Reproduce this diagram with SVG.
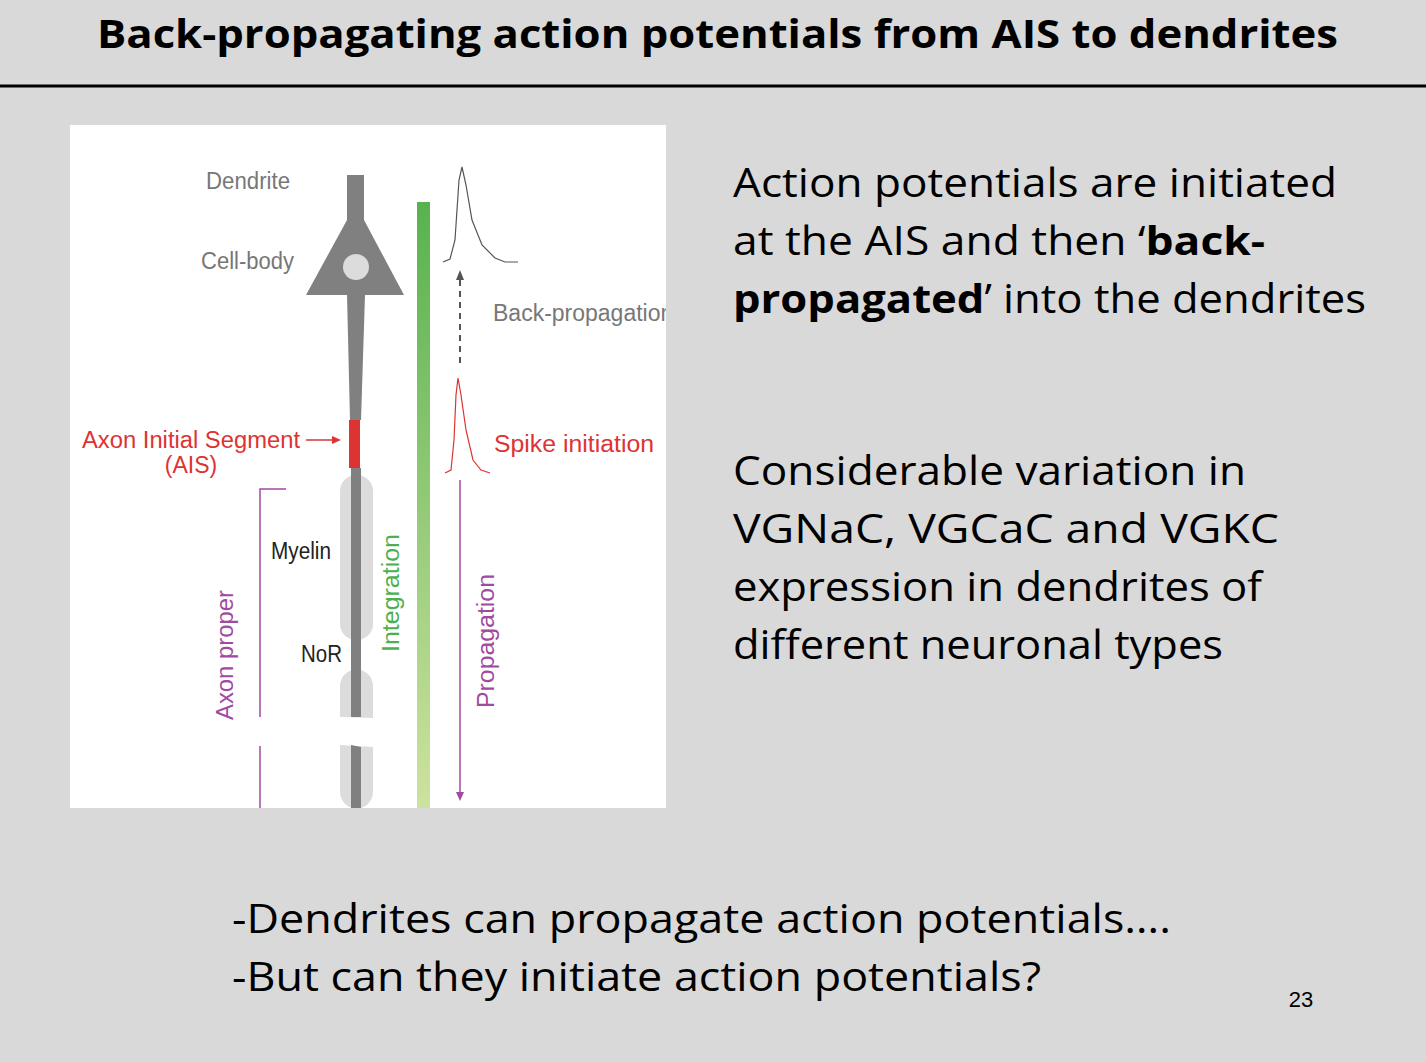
<svg xmlns="http://www.w3.org/2000/svg" width="1426" height="1062" viewBox="0 0 1426 1062">
<defs>
<linearGradient id="g" x1="0" y1="0" x2="0" y2="1"><stop offset="0" stop-color="#58b24f"/><stop offset="1" stop-color="#cde29e"/></linearGradient>
<clipPath id="fig"><rect x="70" y="125" width="596" height="683"/></clipPath>
</defs>
<style>
.t{font-family:"Open Sans","Noto Sans",sans-serif;fill:#000}
.f{font-family:"Liberation Sans",Arial,sans-serif}
</style>
<rect width="1426" height="1062" fill="#d9d9d9"/>
<text class="t" x="97" y="48" font-size="40" font-weight="bold" textLength="1241" lengthAdjust="spacingAndGlyphs">Back-propagating action potentials from AIS to  dendrites</text>
<line x1="0" y1="86" x2="1426" y2="86" stroke="#000" stroke-width="3"/>
<g id="figure" clip-path="url(#fig)">
<rect x="70" y="125" width="596" height="683" fill="#fff"/>
<rect x="417" y="202" width="13" height="606" fill="url(#g)"/>
<g id="neuron">
<rect x="347" y="175" width="17" height="50" fill="#808080"/>
<polygon points="347,220 364,220 404,295 306,295" fill="#808080"/>
<polygon points="347,295 365,295 361,420 350,420" fill="#808080"/>
<circle cx="356" cy="267" r="13" fill="#dcdcdc"/>
<rect x="349" y="420" width="11" height="48" fill="#dd3333"/>
<rect x="340" y="475" width="33" height="165" rx="16" fill="#dcdcdc"/>
<path d="M340,717 V686 a16,16 0 0 1 33,0 V718 Z" fill="#dcdcdc"/>
<path d="M340,745 L373,747 V792 a16,16 0 0 1 -33,0 Z" fill="#dcdcdc"/>
<rect x="351" y="468" width="10" height="249" fill="#808080"/>
<polygon points="351,745 361,747 361,808 351,808" fill="#808080"/>
</g>
<polyline points="443,262 450,259 455,240 459,180 462,167 466,185 472,220 482,245 495,258 505,262 518,262" fill="none" stroke="#555" stroke-width="1.2"/>
<line x1="460" y1="363" x2="460" y2="280" stroke="#555" stroke-width="2" stroke-dasharray="6,5"/>
<path d="M456,280 L460,270 L464,280 Z" fill="#555"/>
<polyline points="445,473 451,470 454,440 456,395 458,378 461,395 466,430 473,460 481,470 490,473" fill="none" stroke="#dd3333" stroke-width="1.2"/>
<line x1="460" y1="480" x2="460" y2="793" stroke="#a04aa0" stroke-width="1.5"/>
<path d="M456,792 L460,801 L464,792 Z" fill="#a04aa0"/>
<polyline points="286,489 260,489 260,717" fill="none" stroke="#a04aa0" stroke-width="1.5"/>
<line x1="260" y1="746" x2="260" y2="808" stroke="#a04aa0" stroke-width="1.5"/>
<line x1="306" y1="440" x2="334" y2="440" stroke="#dd3333" stroke-width="1.5"/>
<path d="M332,436 L341,440 L332,444 Z" fill="#dd3333"/>
<g class="f" font-size="23">
<text x="206" y="189" fill="#777" textLength="84" lengthAdjust="spacingAndGlyphs">Dendrite</text>
<text x="201" y="269" fill="#777" textLength="93" lengthAdjust="spacingAndGlyphs">Cell-body</text>
<text x="493" y="321" fill="#777">Back-propagation</text>
<text x="494" y="452" fill="#dd3333" textLength="160" lengthAdjust="spacingAndGlyphs">Spike initiation</text>
<text x="82" y="448" fill="#dd3333" textLength="218" lengthAdjust="spacingAndGlyphs">Axon Initial Segment</text>
<text x="191" y="473" fill="#dd3333" text-anchor="middle">(AIS)</text>
<text x="271" y="559" fill="#222" textLength="60" lengthAdjust="spacingAndGlyphs">Myelin</text>
<text x="301" y="662" fill="#222" textLength="41" lengthAdjust="spacingAndGlyphs">NoR</text>
<text transform="translate(233,720) rotate(-90)" fill="#a04aa0" textLength="130" lengthAdjust="spacingAndGlyphs">Axon proper</text>
<text transform="translate(399,652) rotate(-90)" fill="#4caf50" textLength="118" lengthAdjust="spacingAndGlyphs">Integration</text>
<text transform="translate(494,708) rotate(-90)" fill="#a04aa0" textLength="134" lengthAdjust="spacingAndGlyphs">Propagation</text>
</g>
</g>
<g class="t" font-size="40">
<text x="733" y="197" textLength="604" lengthAdjust="spacingAndGlyphs">Action potentials are initiated</text>
<text x="733" y="255" textLength="532" lengthAdjust="spacingAndGlyphs">at the AIS and then ‘<tspan font-weight="bold">back-</tspan></text>
<text x="733" y="313" textLength="633" lengthAdjust="spacingAndGlyphs"><tspan font-weight="bold">propagated</tspan>’ into the dendrites</text>
<text x="733" y="485" textLength="513" lengthAdjust="spacingAndGlyphs">Considerable variation in</text>
<text x="733" y="543" textLength="546" lengthAdjust="spacingAndGlyphs">VGNaC, VGCaC and VGKC</text>
<text x="733" y="601" textLength="529" lengthAdjust="spacingAndGlyphs">expression in dendrites of</text>
<text x="733" y="659" textLength="490" lengthAdjust="spacingAndGlyphs">different neuronal types</text>
<text x="232" y="933" textLength="939" lengthAdjust="spacingAndGlyphs">-Dendrites can propagate action potentials….</text>
<text x="232" y="991" textLength="809" lengthAdjust="spacingAndGlyphs">-But can they initiate action potentials?</text>
</g>
<text x="1301" y="1007" font-family="Liberation Sans,Arial,sans-serif" font-size="22" text-anchor="middle">23</text>
</svg>
